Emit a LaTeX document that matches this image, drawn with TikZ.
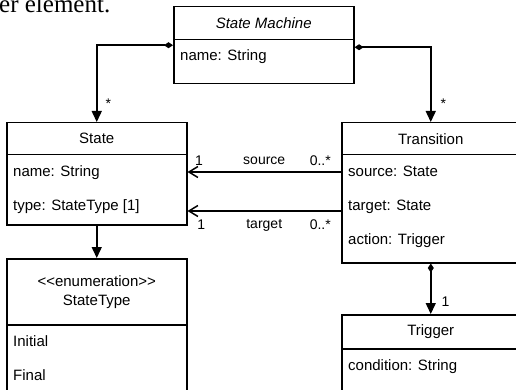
\documentclass[tikz,border=0pt]{standalone}
\usepackage{fontspec}
\setmainfont{Liberation Sans}
\newfontfamily\pagefont{Liberation Serif}
\usetikzlibrary{arrows.meta,calc}
\tikzset{
  cls/.style={draw,line width=1.5pt,anchor=north west,inner sep=0pt},
  hd/.style={draw,line width=1.5pt,anchor=north west,inner sep=0pt,align=center,font=\fontsize{15}{19}\selectfont},
  attr/.style={anchor=base west,inner sep=0pt,font=\fontsize{15}{18}\selectfont},
  lbl/.style={inner sep=0pt,font=\fontsize{14}{16}\selectfont},
  comp/.style={{Diamond[length=9pt,width=6pt]}-{Triangle[length=11pt,width=10pt]},line width=1.5pt},
  nav/.style={-{Triangle[length=11pt,width=10pt]},line width=1.5pt},
  assoc/.style={-{Straight Barb[length=9pt,width=11pt]},line width=1.5pt}
}
% name, left, top, width, head height, height, title, attributes
\newcommand{\umlclass}[8]{%
  \node[cls,minimum width=#4pt,minimum height=#6pt] (#1) at (#2,#3) {};
  \node[hd,minimum width=#4pt,minimum height=#5pt] (#1h) at (#2,#3) {#7};
  \foreach \attr [count=\i] in {#8}{%
    \node[attr] (#1a\i) at ($(#1.north west)+(7,{#5+22+(\i-1)*34})$) {\attr};}
}

\begin{document}
\begin{tikzpicture}[x=1pt,y=-1pt]
\useasboundingbox (0,0) rectangle (516,390);
\clip (0,0) rectangle (516,390);
\node[font=\pagefont\fontsize{25}{30}\selectfont,anchor=base west,inner sep=0pt] (pg) at (-1,13) {er element.};

\umlclass{sm}{173}{6}{180}{33}{77}{\textit{State Machine}}{name: String}
\umlclass{st}{6}{122}{180}{32}{102}{State}{name: String,type: StateType [1]}
\umlclass{tr}{341}{122}{178}{32}{140}{Transition}{source: State,target: State,action: Trigger}
\umlclass{stype}{6}{258}{180}{66}{150}{<\kern0pt<enumeration>\kern0pt>\\StateType}{Initial,Final}
\umlclass{trig}{341}{314}{178}{34}{100}{Trigger}{condition: String}

% composition
\draw[comp] (sm.west) -| node[lbl,pos=1,anchor=base west,xshift=8pt,yshift=13pt] {*} (st.north);
\draw[comp] ([yshift=-2pt]sm.east) -| node[lbl,pos=1,anchor=base west,xshift=9pt,yshift=13pt] {*} (tr.north);
\draw[comp] (tr.south) -- node[lbl,pos=1,anchor=base west,xshift=10pt,yshift=8pt] {1} (trig.north);

% associations
\coordinate (src) at ($(tr.north west)+(0,50)$);
\coordinate (tgt) at ($(tr.north west)+(0,89)$);
\draw[assoc] (src) -- (src -| st.east)
  node[lbl,pos=0.135,yshift=11pt] {0..*}
  node[lbl,pos=0.5,yshift=11pt] {source}
  node[lbl,pos=0.925,yshift=11pt] {1};
\draw[assoc] (tgt) -- (tgt -| st.east)
  node[lbl,pos=0.135,yshift=-14pt] {0..*}
  node[lbl,pos=0.5,yshift=-14pt] {target}
  node[lbl,pos=0.91,yshift=-14pt] {1};

\draw[nav] (st.south) -- (stype.north);
\end{tikzpicture}
\end{document}
